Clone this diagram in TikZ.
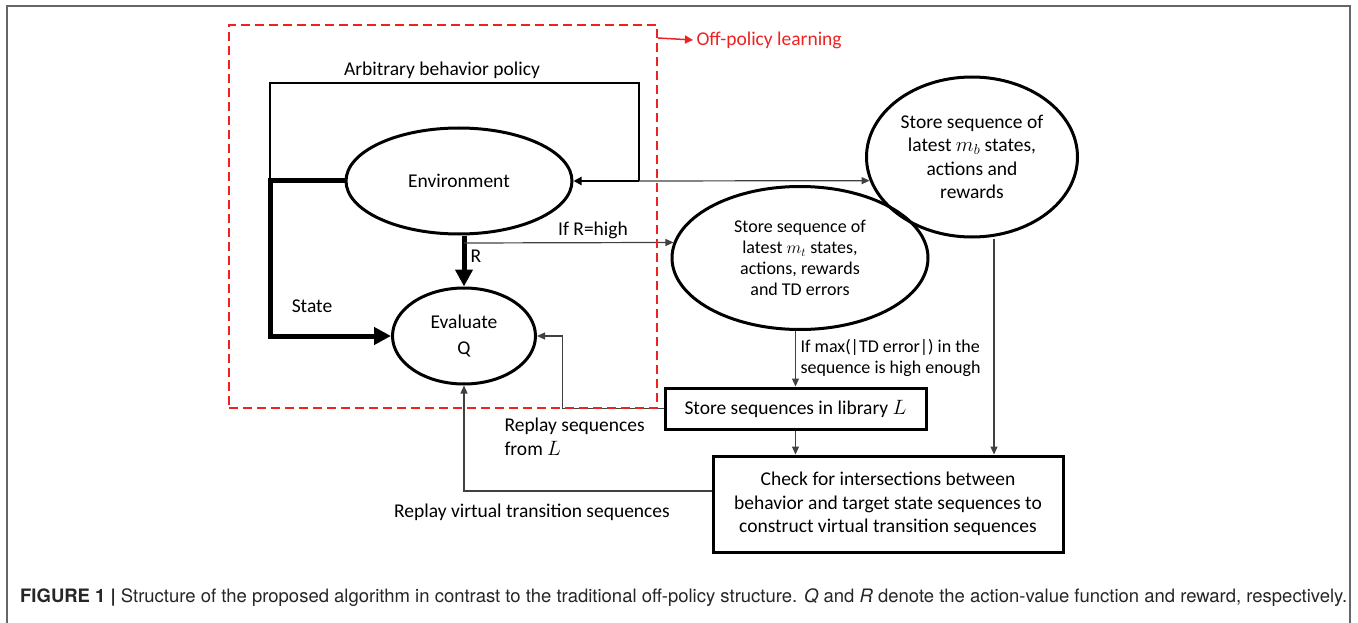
\documentclass[tikz,border=0pt]{standalone}
\usepackage{fontspec}
\setmainfont{Carlito}
\newfontfamily\capfont{TeX Gyre Heros}
\usetikzlibrary{arrows.meta,shapes.geometric,positioning}
\definecolor{offred}{RGB}{238,34,34}

\begin{document}
\begin{tikzpicture}[x=1pt, y=-1pt,
        font=\fontsize{19.5}{23.5}\selectfont,
        ell/.style={draw, ellipse, line width=3pt, inner sep=0pt, align=center},
        box/.style={draw, rectangle, line width=3pt, inner sep=0pt, align=center},
        small/.style={font=\fontsize{18}{21}\selectfont},
        conn/.style={draw=black!75, line width=1.2pt, -{Triangle[length=8pt,width=7pt]}},
        heavy/.style={line width=5pt, -{Triangle[length=17pt,width=17pt]}},
        loopline/.style={line width=2.6pt}]
        \useasboundingbox (0,0) rectangle (1358,623);
        \draw[black!60, line width=1.5pt] (7,640) -- (7,6) -- (1350,6) -- (1350,640);

        \node[ell, minimum width=226pt, minimum height=106pt] (env) at (459,181) {Environment};
        \node[ell, minimum width=143pt, minimum height=96pt] (evq) at (464,336) {Evaluate\\[3pt]Q};
        \node[ell, small, minimum width=256pt, minimum height=143pt] (mt) at (800,258)
            {Store sequence of\\latest $m_t$ states,\\actions, rewards\\and TD errors};
        \node[ell, minimum width=211pt, minimum height=160pt] (mb) at (972,157)
            {Store sequence of\\latest $m_b$ states,\\actions and\\rewards};
        \node[box, minimum width=261pt, minimum height=41pt] (lib) at (795.5,408.5)
            {Store sequences in library $L$};
        \node[box, minimum width=350pt, minimum height=96pt] (chk) at (888,504)
            {Check for intersections between\\behavior and target state sequences to\\construct virtual transition sequences};

        \coordinate (stl) at (270,181);
        \coordinate (bpl) at (270,83);
        \coordinate (bpr) at (639,83);
        \coordinate (bpin) at (639,181);
        \coordinate (rh) at (464,243);

        \draw[loopline] (stl) -- (bpl) -- (bpr) -- (bpin);
        \draw[loopline, -{Triangle[length=8pt,width=8pt]}] (bpin) -- (bpin -| env.east);
        \draw[conn] (bpin) -- (mb.193);
        \draw[heavy] (env.west) -- (stl) |- (evq.west);
        \draw[heavy] (env.south -| evq.north) -- (evq.north);
        \draw[conn] (rh) -- (mt.173);
        \draw[conn] (mt.south -| lib.north) -- (lib.north);
        \draw[conn] (lib.south) -- (lib.south |- chk.north);
        \draw[conn] ([xshift=22pt]mb.south) -- ([xshift=22pt]mb.south |- chk.north);
        \draw[conn] (lib.west) -- ++(-101,0) |- (evq.east);
        \draw[conn] ([yshift=13pt]chk.west) -| (evq.south);

        \node (bplab) at (442,70) {Arbitrary behavior policy};
        \node (stlab) at (312,306) {State};
        \node (rlab) at (476,256) {R};
        \node (rhlab) at (593,230) {If R=high};
        \node[small, anchor=west, align=left] (tdlab) at (797,358)
            {If max(|TD error|) in the\\sequence is high enough};
        \node[anchor=west, align=left] (rplab) at (501,437) {Replay sequences\\from $L$};
        \node (rvlab) at (532,512) {Replay virtual transition sequences};

        % off-policy part
        \node[draw=offred, line width=2pt, dash pattern=on 9pt off 5pt,
            minimum width=428pt, minimum height=383pt] (offp) at (443,216.5) {};
        \node[text=offred, anchor=west] (oplab) at (693,40) {Off-policy learning};
        \draw[offred, line width=1.5pt, -{Triangle[length=8pt,width=8pt]}]
            ([yshift=-14pt]offp.north east) -- (oplab.west);

        \node[anchor=west, inner sep=0pt, text=black!85] (cap) at (20,598)
            {\resizebox{1327pt}{!}{\capfont\textbf{FIGURE 1 |} Structure of the proposed algorithm in contrast to the traditional off-policy structure. \textit{Q} and \textit{R} denote the action-value function and reward, respectively.}};
    \end{tikzpicture}
\end{document}
